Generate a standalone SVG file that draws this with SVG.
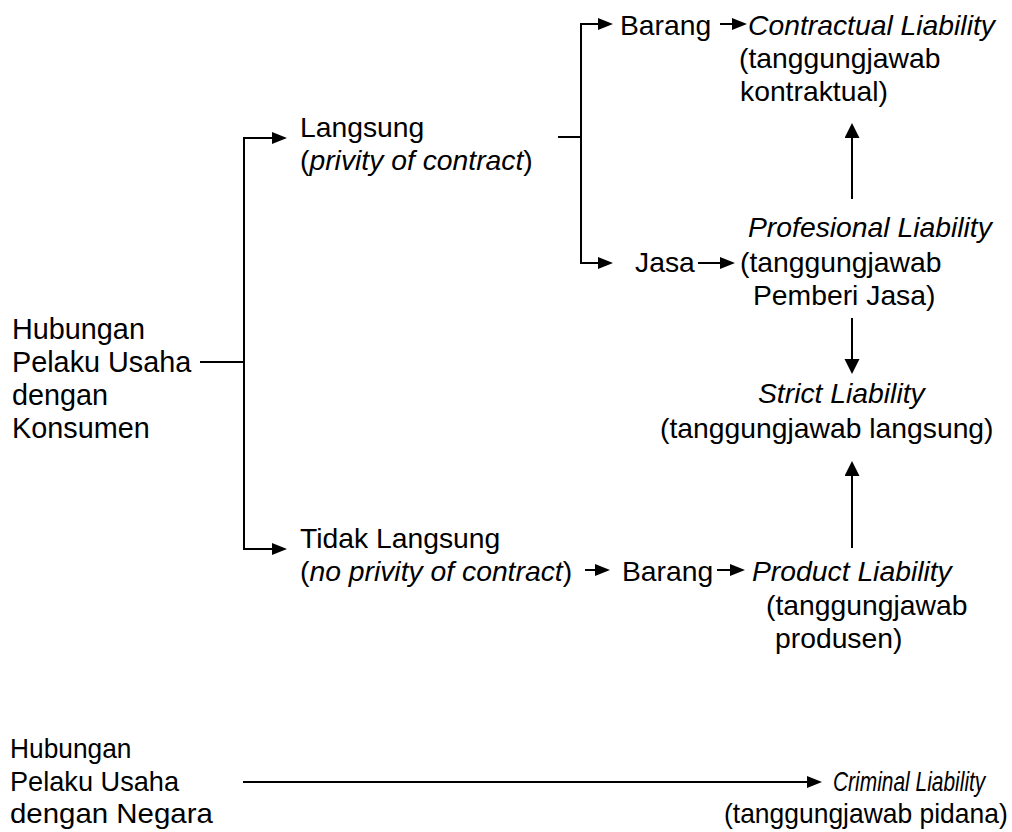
<svg xmlns="http://www.w3.org/2000/svg" width="1012" height="832" viewBox="0 0 1012 832">
<style>
text{font-family:"Liberation Sans",Arial,sans-serif;font-size:28.3px;fill:#000}
.i{font-style:italic}
.big{font-size:28.8px}
.c{fill:none;stroke:#000;stroke-width:2}
</style>
<defs>
<marker id="ah" markerUnits="userSpaceOnUse" markerWidth="16" markerHeight="14" refX="3" refY="6" orient="auto" viewBox="0 0 16 14">
<path d="M0,0 L15,6 L0,12 z" fill="#000"/>
</marker>
<marker id="ahb" markerUnits="userSpaceOnUse" markerWidth="17" markerHeight="16" refX="3" refY="7.5" orient="auto" viewBox="0 0 17 16">
<path d="M0,0 L15,7.5 L0,15 z" fill="#000"/>
</marker>
</defs>
<rect width="1012" height="832" fill="#fff"/>
<g id="connectors">
<path class="c" d="M200,362 H244"/>
<path class="c" d="M244,362 V138 H275" marker-end="url(#ah)"/>
<path class="c" d="M244,362 V549 H275" marker-end="url(#ah)"/>
<path class="c" d="M558,137 H581"/>
<path class="c" d="M581,137 V24 H601" marker-end="url(#ah)"/>
<path class="c" d="M581,137 V263 H601" marker-end="url(#ah)"/>
<path class="c" d="M720,24 H735" marker-end="url(#ah)"/>
<path class="c" d="M698,263 H723" marker-end="url(#ah)"/>
<path class="c" d="M852,199 V135" marker-end="url(#ahb)"/>
<path class="c" d="M852,318 V362" marker-end="url(#ahb)"/>
<path class="c" d="M852,548 V473" marker-end="url(#ahb)"/>
<path class="c" d="M585,570 H598" marker-end="url(#ah)"/>
<path class="c" d="M717,570 H733" marker-end="url(#ah)"/>
<path class="c" d="M243,782 H810" marker-end="url(#ah)"/>
</g>
<g id="hubungan-konsumen">
<text class="big" x="12" y="339">Hubungan</text>
<text class="big" x="12" y="372">Pelaku Usaha</text>
<text class="big" x="12" y="405">dengan</text>
<text class="big" x="12" y="438">Konsumen</text>
</g>
<g id="langsung">
<text x="300" y="137">Langsung</text>
<text x="300" y="170">(<tspan class="i">privity of contract</tspan>)</text>
</g>
<g id="barang-1"><text x="620" y="35">Barang</text></g>
<g id="contractual">
<text class="i" x="748" y="35">Contractual Liability</text>
<text x="739" y="68">(tanggungjawab</text>
<text x="740" y="101">kontraktual)</text>
</g>
<g id="jasa"><text x="635" y="272">Jasa</text></g>
<g id="profesional">
<text class="i" x="748" y="237">Profesional Liability</text>
<text x="740" y="272">(tanggungjawab</text>
<text x="753" y="305">Pemberi Jasa)</text>
</g>
<g id="strict">
<text class="i" x="758" y="403">Strict Liability</text>
<text x="660" y="438">(tanggungjawab langsung)</text>
</g>
<g id="tidak-langsung">
<text x="300" y="548">Tidak Langsung</text>
<text x="300" y="581">(<tspan class="i">no privity of contract</tspan>)</text>
</g>
<g id="barang-2"><text x="622" y="581">Barang</text></g>
<g id="product">
<text class="i" x="752" y="581">Product Liability</text>
<text x="766" y="615">(tanggungjawab</text>
<text x="775" y="648">produsen)</text>
</g>
<g id="hubungan-negara">
<text transform="translate(10,758) scale(0.93,1)">Hubungan</text>
<text transform="translate(10,791) scale(0.96,1)">Pelaku Usaha</text>
<text transform="translate(10,823) scale(1.04,1)">dengan Negara</text>
</g>
<g id="criminal">
<text class="i" transform="translate(833,791) scale(0.74,1)">Criminal Liability</text>
<text transform="translate(724,823) scale(0.935,1)">(tanggungjawab pidana)</text>
</g>
</svg>
